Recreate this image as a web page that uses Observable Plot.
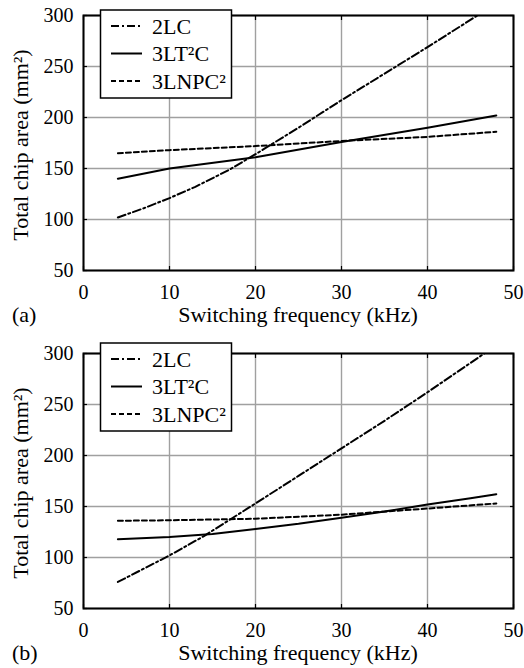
<!DOCTYPE html>
<html><head><meta charset="utf-8">
<script src="https://cdn.jsdelivr.net/npm/d3@7"></script>
<script src="https://cdn.jsdelivr.net/npm/@observablehq/plot@0.6"></script>
<style>
body{margin:0;background:#fff;}
#chart{width:524px;height:668px;overflow:hidden;}
svg{display:block;}
#chart svg text{font-family:"Liberation Serif","Times New Roman",serif !important;}
</style></head><body><div id="chart"></div>
<script>
// ---- data ----
const seriesNames = ["2LC", "3LT²C", "3LNPC²"];
const panelLabels = ["(a)", "(b)"];
const xTicks = [0, 10, 20, 30, 40, 50];
const yTicks = [50, 100, 150, 200, 250, 300];
const xLabel = "Switching frequency (kHz)";
const yLabel = "Total chip area (mm²)";

// panel (a)
const a2LC_f   = [4, 7, 10, 13, 17, 20, 25, 30, 35, 40, 45.8];
const a2LC_v   = [102, 111, 121, 132, 149, 164, 190, 217, 243, 269, 300];
const a3LT_f   = [4, 10, 20, 30, 40, 48];
const a3LT_v   = [140, 150, 161, 176, 190, 202];
const a3LNPC_f = [4, 10, 20, 30, 40, 48];
const a3LNPC_v = [165, 168, 172, 177, 181, 186];

// panel (b)
const b2LC_f   = [4, 10, 14, 17, 20, 25, 30, 35, 40, 46.6];
const b2LC_v   = [76, 102, 121, 137, 153, 180, 207, 234, 262, 300];
const b3LT_f   = [4, 10, 15, 20, 25, 30, 35, 40, 45, 48];
const b3LT_v   = [118, 120, 123, 128, 133, 139, 145, 152, 158, 162];
const b3LNPC_f = [4, 10, 20, 30, 40, 48];
const b3LNPC_v = [136, 136.5, 138, 142, 148, 153];

const dashes = ["8,3,2,3", null, "5,3"];

function rows(f, v) { return f.map((x, i) => ({f: x, v: v[i]})); }

const panels = [
  {series: [rows(a2LC_f, a2LC_v), rows(a3LT_f, a3LT_v), rows(a3LNPC_f, a3LNPC_v)], height: 338, mb: 68, legendTop: 10},
  {series: [rows(b2LC_f, b2LC_v), rows(b3LT_f, b3LT_v), rows(b3LNPC_f, b3LNPC_v)], height: 330, mb: 60, legendTop: 5}
];

const FONT = "'Liberation Serif', 'Times New Roman', serif";

panels.forEach((p, pi) => {
  const lineMarks = p.series.map((data, si) => Plot.line(data, {
    x: "f", y: "v", stroke: "#000", strokeWidth: 2,
    strokeDasharray: dashes[si] ?? undefined, clip: true
  }));
  const svg = Plot.plot({
    width: 524, height: p.height,
    marginLeft: 83, marginRight: 11, marginTop: 15, marginBottom: p.mb,
    style: {fontSize: "20px", background: "#fff", color: "#000", overflow: "visible"},
    x: {domain: [0, 50], label: null},
    y: {domain: [50, 300], label: null},
    marks: [
      Plot.gridX(xTicks, {stroke: "#a0a0a0", strokeOpacity: 1, strokeWidth: 1.4}),
      Plot.gridY(yTicks, {stroke: "#a0a0a0", strokeOpacity: 1, strokeWidth: 1.4}),
      Plot.axisX(xTicks, {tickSize: 0, tickPadding: 14, fontSize: 20}),
      Plot.axisY(yTicks, {tickSize: 0, tickPadding: 10, fontSize: 20}),
      Plot.axisY(yTicks, {anchor: "left", tickSize: -4, tickFormat: () => "", strokeWidth: 1.2}),
      Plot.axisY(yTicks, {anchor: "right", tickSize: -4, tickFormat: () => "", strokeWidth: 1.2}),
      Plot.axisX(xTicks, {anchor: "bottom", tickSize: -4, tickFormat: () => "", strokeWidth: 1.2}),
      Plot.axisX(xTicks, {anchor: "top", tickSize: -4, tickFormat: () => "", strokeWidth: 1.2}),
      ...lineMarks,
      Plot.frame({stroke: "#000", strokeWidth: 2})
    ]
  });
  const s = d3.select(svg);
  // axis titles
  s.append("text").attr("x", 298).attr("y", 322).attr("text-anchor", "middle")
    .attr("font-size", 22).attr("fill", "#000").text(xLabel);
  s.append("text").attr("transform", "translate(28,145) rotate(-90)").attr("text-anchor", "middle")
    .attr("font-size", 22).attr("fill", "#000").text(yLabel);
  s.append("text").attr("x", 12).attr("y", 322).attr("text-anchor", "start")
    .attr("font-size", 22).attr("fill", "#000").text(panelLabels[pi]);
  // legend
  const lt = p.legendTop;
  const g = s.append("g");
  g.append("rect").attr("x", 100.5).attr("y", lt).attr("width", 131).attr("height", 88)
    .attr("fill", "#fff").attr("stroke", "#000").attr("stroke-width", 1.5);
  seriesNames.forEach((name, i) => {
    const cy = lt + 16 + i * 27.5;
    const ln = g.append("line").attr("x1", 111).attr("x2", 142).attr("y1", cy).attr("y2", cy)
      .attr("stroke", "#000").attr("stroke-width", 2);
    if (dashes[i]) ln.attr("stroke-dasharray", dashes[i]);
    g.append("text").attr("x", 152).attr("y", cy + 7.5).attr("text-anchor", "start")
      .attr("font-size", 22).attr("fill", "#000").text(name);
  });
  s.selectAll("text").style("font-family", FONT);
  document.getElementById("chart").appendChild(svg);
});
</script>
</body></html>
